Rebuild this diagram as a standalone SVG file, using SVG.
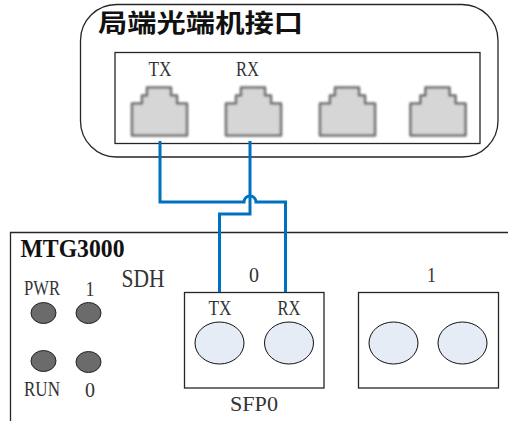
<svg xmlns="http://www.w3.org/2000/svg" width="508" height="421" viewBox="0 0 508 421">
<defs>
<style>
.box{fill:#fff;stroke:#262626;stroke-width:1.3}
.t{font-family:"Liberation Serif","Noto Sans CJK SC",serif;font-size:22px;fill:#333;text-anchor:middle}
.led{fill:#6b6b6b;stroke:#222;stroke-width:1}
.sfp{fill:#e6ecf6;stroke:#111;stroke-width:1}
.wire{fill:none;stroke:#0070c0;stroke-width:3}
.port{fill:#d6d6d6;stroke:#6e6e6e;stroke-width:2.6;stroke-linejoin:round}
</style>
<filter id="soft" x="-10%" y="-10%" width="120%" height="120%"><feGaussianBlur stdDeviation="0.9"/></filter>
<path id="rj" d="M0 48V16H10V8H15V0H39V8H45V16H55V48Z"/>
</defs>
<rect width="508" height="421" fill="#fff"/>
<g id="office-terminal">
<rect class="box" x="80.500" y="4.500" width="417.500" height="152.500" rx="36" ry="36"/>
<text x="98" y="32" font-family="'Noto Sans CJK SC',sans-serif" font-size="25" font-weight="700" fill="#111" textLength="205" lengthAdjust="spacingAndGlyphs">局端光端机接口</text>
<rect class="box" x="115" y="52.500" width="365" height="91"/>
<text class="t" x="160" y="76" textLength="23" lengthAdjust="spacingAndGlyphs">TX</text>
<text class="t" x="247.500" y="76" textLength="23" lengthAdjust="spacingAndGlyphs">RX</text>
</g>
<g id="port-1"><use href="#rj" class="port" filter="url(#soft)" x="132" y="87.500"/></g>
<g id="port-2"><use href="#rj" class="port" filter="url(#soft)" x="226" y="87.500"/></g>
<g id="port-3"><use href="#rj" class="port" filter="url(#soft)" x="320" y="87.500"/></g>
<g id="port-4"><use href="#rj" class="port" filter="url(#soft)" x="410.500" y="87.500"/></g>
<g id="mtg3000">
<path d="M10.500 421V232.500H508" fill="none" stroke="#262626" stroke-width="1.300"/>
<text x="20.500" y="257" font-family="'Liberation Serif',serif" font-size="26" font-weight="700" fill="#111" textLength="104" lengthAdjust="spacingAndGlyphs">MTG3000</text>
<text class="t" style="font-size:25px" x="143" y="286.500" textLength="43" lengthAdjust="spacingAndGlyphs">SDH</text>
<text class="t" x="42" y="295" textLength="36" lengthAdjust="spacingAndGlyphs">PWR</text>
<text class="t" x="90" y="296" textLength="9" lengthAdjust="spacingAndGlyphs">1</text>
<text class="t" x="42" y="396" textLength="36" lengthAdjust="spacingAndGlyphs">RUN</text>
<text class="t" x="90" y="397" textLength="10" lengthAdjust="spacingAndGlyphs">0</text>
<text class="t" x="254" y="282" textLength="10" lengthAdjust="spacingAndGlyphs">0</text>
<text class="t" x="431.500" y="282" textLength="9" lengthAdjust="spacingAndGlyphs">1</text>
</g>
<g id="led-pwr"><ellipse class="led" cx="43.500" cy="313" rx="12.500" ry="10.500"/></g>
<g id="led-1"><ellipse class="led" cx="88.500" cy="313" rx="12.500" ry="10.500"/></g>
<g id="led-run"><ellipse class="led" cx="43.500" cy="361" rx="12.500" ry="10.500"/></g>
<g id="led-0"><ellipse class="led" cx="88.500" cy="362" rx="12.500" ry="10.500"/></g>
<g id="sfp0">
<rect class="box" x="184.500" y="292.500" width="139.500" height="95.500"/>
<text class="t" x="220" y="315" textLength="23" lengthAdjust="spacingAndGlyphs">TX</text>
<text class="t" x="289" y="315" textLength="23" lengthAdjust="spacingAndGlyphs">RX</text>
<ellipse class="sfp" cx="219.500" cy="343" rx="24.500" ry="21"/>
<ellipse class="sfp" cx="289" cy="343" rx="24.500" ry="21"/>
<text class="t" x="254" y="411" textLength="48" lengthAdjust="spacingAndGlyphs">SFP0</text>
</g>
<g id="sfp1">
<rect class="box" x="358.500" y="292.500" width="140" height="95.500"/>
<ellipse class="sfp" cx="393.500" cy="343" rx="24.500" ry="21"/>
<ellipse class="sfp" cx="462.500" cy="343" rx="24.500" ry="21"/>
</g>
<g id="connectors">
<path class="wire" d="M160 141V202H244A6 6 0 0 1 256 202H285.500V292"/>
<path class="wire" d="M250 141V214H219.500V292"/>
</g>
</svg>
